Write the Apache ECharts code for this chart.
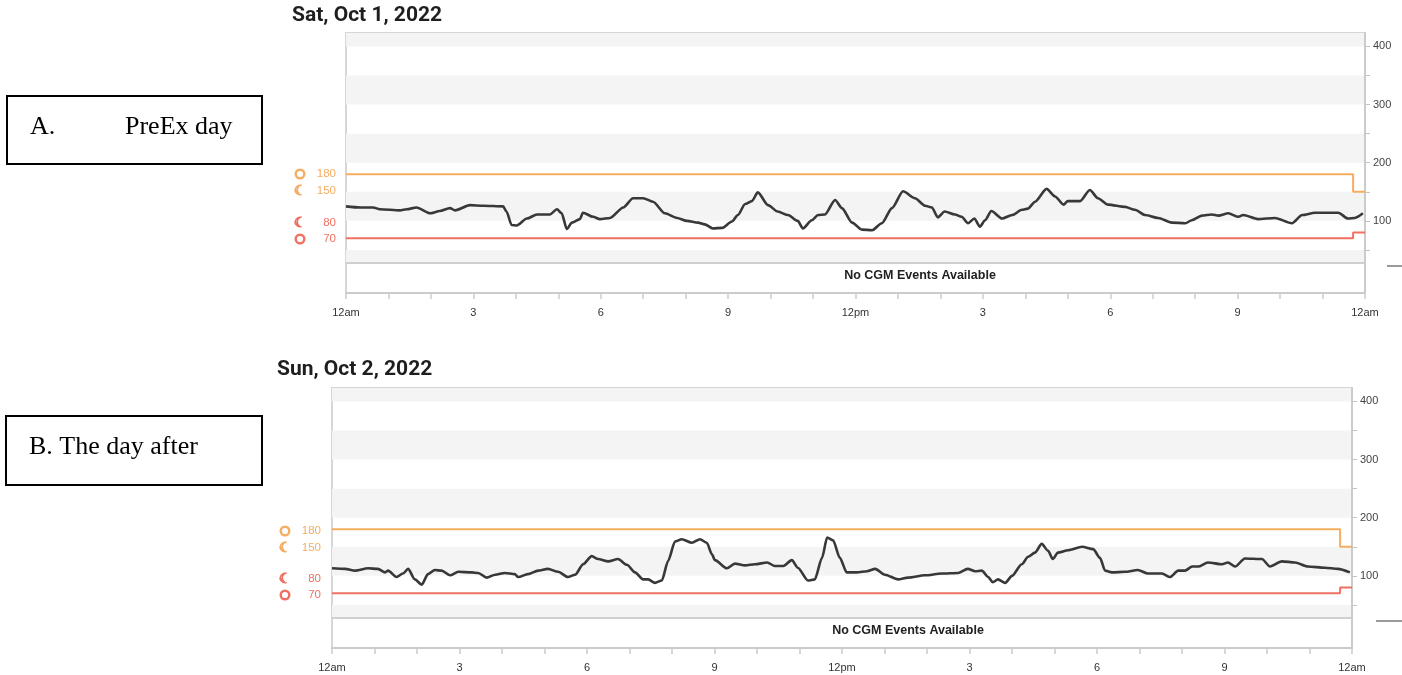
<!DOCTYPE html>
<html>
<head>
<meta charset="utf-8">
<script src="https://cdn.jsdelivr.net/npm/echarts@6/dist/echarts.min.js"></script>
<style>
html,body{margin:0;padding:0;background:#fff;}
#c{width:1402px;height:675px;}
</style>
</head>
<body>
<div id="c"></div>
<script>
// ---------- data ----------
const xTickLabels = ['12am', '3', '6', '9', '12pm', '3', '6', '9', '12am'];
const yLabelValues = [100, 200, 300, 400];
const yTickValues = [50, 100, 150, 200, 250, 300, 350, 400];
const bandRanges = [[27.5, 50], [100, 150], [200, 250], [300, 350], [400, 423]];
const eventsFloor = 27.5;

const day1Title = 'Sat, Oct 1, 2022';
const day2Title = 'Sun, Oct 2, 2022';
const day1Note = ['A.', 'PreEx day'];
const day2Note = 'B. The day after';
const eventsText = 'No CGM Events Available';

const targetHours = [0, 23.72, 24];
const highTarget = [180, 150, 150];
const lowTarget = [70, 80, 80];
const targetLabels = ['180', '150', '80', '70'];

const day1Hours = [0, 0.33, 0.64, 0.8, 1.27, 1.43, 1.66, 1.98, 2.21, 2.45, 2.57, 2.92, 3.23, 3.7, 3.78, 3.9, 4.02, 4.26, 4.5, 4.8, 4.97, 5.08, 5.2, 5.32, 5.51, 5.58, 5.82, 5.98, 6.22, 6.53, 6.76, 7.0, 7.23, 7.51, 7.8, 8.03, 8.29, 8.45, 8.64, 8.86, 9.09, 9.23, 9.4, 9.56, 9.7, 9.94, 10.17, 10.41, 10.64, 10.76, 10.97, 11.12, 11.28, 11.52, 11.68, 11.92, 12.15, 12.39, 12.62, 12.86, 13.12, 13.4, 13.64, 13.8, 13.94, 14.1, 14.34, 14.5, 14.65, 14.8, 14.93, 15.05, 15.2, 15.45, 15.69, 15.92, 16.06, 16.23, 16.5, 16.7, 16.9, 17.0, 17.29, 17.52, 17.71, 17.95, 18.35, 18.58, 18.82, 19.13, 19.45, 19.77, 19.92, 20.16, 20.39, 20.55, 20.78, 21.02, 21.13, 21.48, 21.88, 22.28, 22.52, 22.82, 23.37, 23.6, 23.76, 23.95];
const day1Glucose = [125, 123, 123, 120, 118, 120, 123, 113, 117, 122, 118, 127, 126, 125, 116, 93, 92, 104, 111, 111, 120, 113, 86, 97, 103, 114, 107, 103, 105, 123, 139, 139, 133, 113, 105, 100, 97, 94, 87, 88, 99, 110, 129, 134, 149, 127, 116, 110, 100, 87, 101, 110, 111, 136, 122, 97, 85, 84, 96, 122, 151, 139, 126, 123, 106, 116, 111, 107, 96, 104, 90, 101, 117, 104, 110, 119, 121, 133, 155, 142, 128, 134, 134, 153, 139, 128, 124, 119, 110, 105, 97, 96, 101, 109, 111, 109, 113, 107, 110, 103, 105, 96, 110, 114, 114, 104, 105, 113];

const day2Hours = [0, 0.31, 0.54, 0.85, 1.08, 1.25, 1.32, 1.52, 1.67, 1.79, 1.95, 2.11, 2.26, 2.42, 2.58, 2.78, 2.97, 3.29, 3.44, 3.64, 3.84, 4.07, 4.3, 4.38, 4.61, 4.85, 5.08, 5.32, 5.55, 5.72, 5.91, 6.11, 6.26, 6.5, 6.73, 6.94, 7.13, 7.32, 7.44, 7.6, 7.76, 7.91, 8.07, 8.23, 8.47, 8.66, 8.82, 8.94, 9.01, 9.29, 9.48, 9.72, 9.95, 10.24, 10.42, 10.62, 10.82, 10.96, 11.2, 11.36, 11.53, 11.65, 11.79, 11.95, 12.11, 12.35, 12.59, 12.78, 13.01, 13.32, 13.55, 13.95, 14.35, 14.73, 14.96, 15.13, 15.29, 15.44, 15.55, 15.67, 15.84, 16.0, 16.23, 16.38, 16.54, 16.7, 16.85, 16.96, 17.08, 17.32, 17.65, 17.91, 18.07, 18.19, 18.35, 18.66, 18.96, 19.2, 19.53, 19.72, 19.91, 20.07, 20.24, 20.38, 20.61, 20.94, 21.08, 21.25, 21.48, 21.88, 22.07, 22.35, 22.66, 22.96, 23.36, 23.67, 23.95];
const day2Glucose = [113, 112, 109, 113, 112, 106, 109, 98, 104, 112, 94, 85, 103, 110, 109, 101, 107, 106, 105, 97, 102, 105, 103, 98, 103, 109, 112, 107, 98, 102, 120, 134, 129, 125, 129, 119, 106, 94, 94, 88, 92, 126, 159, 163, 157, 163, 157, 137, 127, 113, 121, 118, 120, 123, 117, 117, 127, 114, 92, 94, 131, 166, 161, 131, 106, 106, 108, 112, 102, 94, 97, 101, 104, 105, 112, 108, 109, 98, 89, 94, 88, 100, 120, 133, 140, 155, 143, 129, 140, 144, 150, 146, 131, 109, 106, 107, 110, 104, 104, 98, 109, 109, 116, 116, 123, 120, 123, 116, 130, 129, 116, 125, 123, 116, 114, 112, 106];

// ---------- styling / layout ----------
const ORANGE = '#f5ad62';
const RED = '#ef7163';
const TRACE = '#383838';
const BAND = '#f4f4f4';
const AXIS = '#cbcbcb';
const pairs = (xs, ys) => xs.map((x, i) => [x, ys[i]]);

const layouts = [
  { left: 346, top: 33, width: 1019, height: 260, title: day1Title, titleX: 292, titleY: 16,
    iconX: 300, numRight: 336, labY: [174, 191, 223, 239], eventsX: 920, eventsY: 276, dashX: 1387, dashY: 266,
    hours: day1Hours, glucose: day1Glucose },
  { left: 332, top: 388, width: 1020, height: 260, title: day2Title, titleX: 277, titleY: 370,
    iconX: 285, numRight: 321, labY: [531, 548, 579, 595], eventsX: 908, eventsY: 631, dashX: 1376, dashY: 621,
    hours: day2Hours, glucose: day2Glucose }
];

const grids = [], xAxes = [], yAxes = [], series = [], graphics = [];

layouts.forEach((L, i) => {
  grids.push({ left: L.left, top: L.top, width: L.width, height: L.height, show: true,
    backgroundColor: '#fff', borderColor: '#d6d6d6', borderWidth: 2 });
  xAxes.push({ type: 'value', gridIndex: i, min: 0, max: 24, interval: 1,
    axisLine: { show: true, onZero: false, lineStyle: { color: AXIS, width: 2 } },
    axisTick: { show: true, inside: false, length: 6, lineStyle: { color: AXIS, width: 1.5 } },
    splitLine: { show: false },
    axisLabel: { margin: 14, fontSize: 11, color: '#333', fontFamily: 'Liberation Sans Narrow, Liberation Sans, Arial, sans-serif',
      formatter: v => (Math.round(v) % 3 === 0 ? xTickLabels[Math.round(v) / 3] : '') } });
  yAxes.push({ type: 'value', gridIndex: i, position: 'right', min: -24, max: 423,
    axisLine: { show: true, onZero: false, lineStyle: { color: AXIS, width: 2 } },
    axisTick: { show: true, inside: false, length: 5, customValues: yTickValues, lineStyle: { color: '#c4c4c4' } },
    axisLabel: { show: true, customValues: yLabelValues, margin: 8, fontSize: 11, color: '#444',
      fontFamily: 'Liberation Sans Narrow, Liberation Sans, Arial, sans-serif' },
    splitLine: { show: false } });

  series.push({ type: 'line', xAxisIndex: i, yAxisIndex: i, name: 'high' + i, step: 'end', symbol: 'none', z: 2,
    data: pairs(targetHours, highTarget), lineStyle: { color: ORANGE, width: 2 }, silent: true,
    markArea: { silent: true, itemStyle: { color: BAND }, z: 0,
      data: bandRanges.map(r => [{ yAxis: r[0] }, { yAxis: r[1] }]) },
    markLine: { silent: true, symbol: 'none', label: { show: false },
      lineStyle: { color: '#cfcfcf', width: 2, type: 'solid' }, data: [{ yAxis: eventsFloor }] } });
  series.push({ type: 'line', xAxisIndex: i, yAxisIndex: i, name: 'low' + i, step: 'end', symbol: 'none', z: 2,
    data: pairs(targetHours, lowTarget), lineStyle: { color: RED, width: 2 }, silent: true });
  series.push({ type: 'line', xAxisIndex: i, yAxisIndex: i, name: 'glucose' + i, symbol: 'none', z: 3,
    smooth: 0.25, smoothMonotone: 'x',
    data: pairs(L.hours, L.glucose), lineStyle: { color: TRACE, width: 2.6 } });

  // title
  graphics.push({ type: 'text', x: L.titleX, y: L.titleY, style: { text: L.title, fill: '#1e1e1e',
    font: 'bold 21px Roboto, Liberation Sans, Arial, sans-serif', verticalAlign: 'middle', align: 'left' } });
  // events strip text
  graphics.push({ type: 'text', x: L.eventsX, y: L.eventsY, style: { text: eventsText, fill: '#222',
    font: 'bold 12.5px Liberation Sans Narrow, Liberation Sans, Arial, sans-serif', verticalAlign: 'middle', align: 'center' } });
  // dash at right
  graphics.push({ type: 'line', shape: { x1: L.dashX, y1: L.dashY, x2: 1402, y2: L.dashY },
    style: { stroke: '#9a9a9a', lineWidth: 2 } });
  // target labels with icons
  const cols = [ORANGE, ORANGE, RED, RED];
  const icons = ['sun', 'moon', 'moon', 'sun'];
  targetLabels.forEach((t, k) => {
    const y = L.labY[k];
    if (icons[k] === 'sun') {
      graphics.push({ type: 'circle', shape: { cx: L.iconX, cy: y, r: 4.3 },
        style: { fill: 'none', stroke: cols[k], lineWidth: 2.4 } });
    } else {
      graphics.push({ type: 'text', x: L.iconX, y: y, style: { text: '\u263E', fill: cols[k],
        stroke: cols[k], lineWidth: 1.2,
        font: 'bold 14px DejaVu Sans, sans-serif', align: 'center', verticalAlign: 'middle' } });
    }
    graphics.push({ type: 'text', x: L.numRight, y: y, style: { text: t, fill: cols[k],
      font: '500 11.5px Liberation Sans Narrow, Liberation Sans, Arial, sans-serif', align: 'right', verticalAlign: 'middle' } });
  });
});

// left annotation boxes
graphics.push({ type: 'rect', shape: { x: 7, y: 96, width: 255, height: 68 },
  style: { fill: '#fff', stroke: '#000', lineWidth: 2 } });
graphics.push({ type: 'text', x: 30, y: 127, style: { text: day1Note[0], fill: '#000',
  font: '26px Liberation Serif, Times New Roman, serif', verticalAlign: 'middle' } });
graphics.push({ type: 'text', x: 125, y: 127, style: { text: day1Note[1], fill: '#000',
  font: '26px Liberation Serif, Times New Roman, serif', verticalAlign: 'middle' } });
graphics.push({ type: 'rect', shape: { x: 6, y: 416, width: 256, height: 69 },
  style: { fill: '#fff', stroke: '#000', lineWidth: 2 } });
graphics.push({ type: 'text', x: 29, y: 447, style: { text: day2Note, fill: '#000',
  font: '26px Liberation Serif, Times New Roman, serif', verticalAlign: 'middle' } });

const chart = echarts.init(document.getElementById('c'), null, { renderer: 'canvas' });
chart.setOption({
  animation: false,
  backgroundColor: '#fff',
  grid: grids,
  xAxis: xAxes,
  yAxis: yAxes,
  series: series,
  graphic: { elements: graphics }
});
</script>
</body>
</html>
